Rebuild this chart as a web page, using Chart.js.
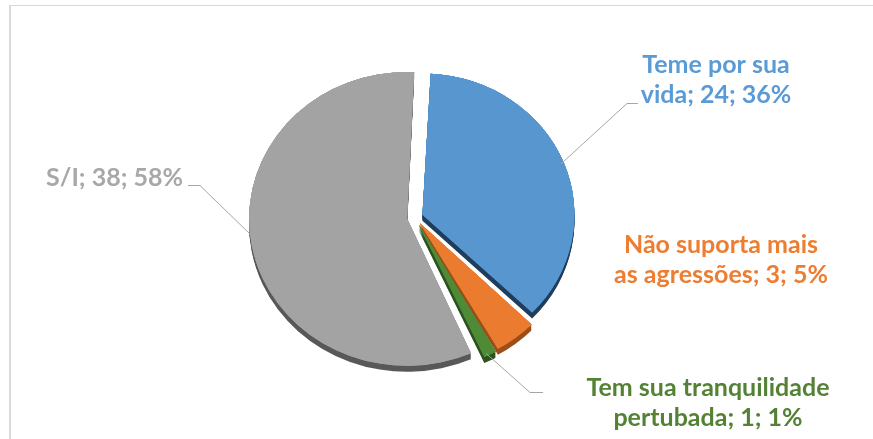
<!DOCTYPE html>
<html><head><meta charset="utf-8">
<script src="https://cdn.jsdelivr.net/npm/chart.js@4.4.1/dist/chart.umd.min.js"></script>
<style>
html,body{margin:0;padding:0;background:#fff;}
#wrap{position:relative;width:873px;height:439px;overflow:hidden;}
#frame{position:absolute;left:9px;top:5px;width:900px;height:500px;border-top:1.5px solid #d9d9d9;border-left:2px solid #d9d9d9;box-sizing:border-box;}
#c{position:absolute;left:0;top:0;}
</style></head><body>
<div id="wrap"><div id="frame"></div><canvas id="c" width="873" height="439"></canvas></div>
<script>
// ---- data ----
const categories = ["Teme por sua vida", "Não suporta mais as agressões", "Tem sua tranquilidade pertubada", "S/I"];
const values = [24, 3, 1, 38];
const percentLabels = ["36%", "5%", "1%", "58%"];

// ---- styles / layout ----
const sliceColors = ["#5896D0", "#EB7B2F", "#4F8A36", "#A3A3A3"];
const sideColors  = ["#1F3D5C", "#9C4E1A", "#2C5220", "#585858"];
const labelColors = ["#5B9BD5", "#ED7D31", "#548235", "#A8A8A8"];
const labelBreaks = [3, 3, 3, 0];          // words on first line (0 = single line)
const labelPos = [                         // text anchor (x, first line y, align)
  {x: 716, y: 65, align: "center"},
  {x: 721, y: 245, align: "center"},
  {x: 708, y: 388, align: "center"},
  {x: 183, y: 178, align: "right"}
];
const leaders = [                          // elbow + end points (null = no leader)
  {elbow: [627, 103], end: [638, 103]},
  null,
  {elbow: [530, 392], end: [543, 392]},
  {elbow: [200, 185], end: [188, 185]}
];
const TILT = 0.93, DEPTH = 6, LINE_H = 30;
const FONT = "bold 25px Lato, 'Open Sans', sans-serif";

function labelText(i) {
  const full = categories[i] + "; " + values[i] + "; " + percentLabels[i];
  const words = full.split(" ");
  const n = labelBreaks[i];
  if (!n) return [full];
  return [words.slice(0, n).join(" "), words.slice(n).join(" ")];
}

function tiltY(chart, y) {
  const a = chart.getDatasetMeta(0).data[0];
  return a.y + (y - a.y) * TILT;
}

const pie3d = {
  id: "pie3d",
  beforeDatasetsDraw(chart) {
    const ctx = chart.ctx;
    const meta = chart.getDatasetMeta(0);
    const a0 = meta.data[0];
    ctx.save();
    ctx.translate(a0.x, a0.y); ctx.scale(1, TILT); ctx.translate(-a0.x, -a0.y);
    meta.data.forEach((arc, i) => {
      ctx.save();
      ctx.shadowColor = sideColors[i];
      ctx.shadowBlur = 0;
      ctx.shadowOffsetX = 0;
      for (let d = 1; d <= DEPTH; d++) {
        ctx.shadowOffsetY = d;
        arc.draw(ctx);
      }
      ctx.restore();
    });
  },
  afterDatasetsDraw(chart) {
    chart.ctx.restore();
  }
};

const labelsPlugin = {
  id: "pieLabels",
  afterDraw(chart) {
    const ctx = chart.ctx;
    const meta = chart.getDatasetMeta(0);
    ctx.save();
    meta.data.forEach((arc, i) => {
      const lead = leaders[i];
      if (lead) {
        const off = (arc.options.offset || 0) / 4;
        const mid = (arc.startAngle + arc.endAngle) / 2;
        const cx = arc.x + Math.cos(mid) * off;
        const cy = arc.y + Math.sin(mid) * off;
        const px = cx + Math.cos(mid) * (arc.outerRadius - 1);
        let py = tiltY(chart, cy + Math.sin(mid) * (arc.outerRadius - 1));
        if (Math.sin(mid) > 0.3) py += DEPTH;
        ctx.strokeStyle = "#A6A6A6";
        ctx.lineWidth = 1;
        ctx.beginPath();
        ctx.moveTo(px, py);
        ctx.lineTo(lead.elbow[0], lead.elbow[1] + 0.5);
        ctx.lineTo(lead.end[0], lead.end[1] + 0.5);
        ctx.stroke();
      }
      const lines = labelText(i);
      const p = labelPos[i];
      ctx.font = FONT;
      ctx.fillStyle = labelColors[i];
      ctx.textAlign = p.align;
      ctx.textBaseline = "middle";
      lines.forEach((t, k) => ctx.fillText(t, p.x, p.y + k * LINE_H));
    });
    ctx.restore();
  }
};

new Chart(document.getElementById("c"), {
  type: "pie",
  data: {
    labels: categories,
    datasets: [{
      data: values,
      backgroundColor: sliceColors,
      borderWidth: 0,
      offset: 32,
      radius: 150
    }]
  },
  options: {
    responsive: false,
    animation: false,
    rotation: 3,
    layout: {padding: {left: 0, right: 43, top: 0, bottom: 4}},
    plugins: {legend: {display: false}, tooltip: {enabled: false}}
  },
  plugins: [pie3d, labelsPlugin]
});
</script>
</body></html>
